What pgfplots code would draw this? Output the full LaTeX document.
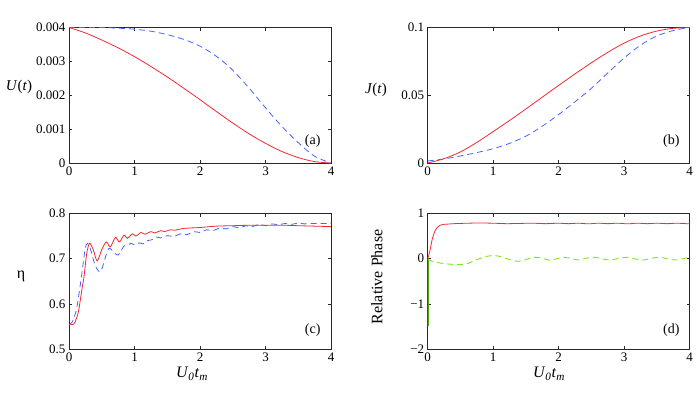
\documentclass[border=0pt]{standalone}
\usepackage{fontspec}
\setmainfont{Liberation Serif}
\usepackage{pgfplots}
\pgfplotsset{compat=1.18}

\definecolor{cred}{RGB}{245,40,50}
\definecolor{cblue}{RGB}{70,100,255}
\definecolor{cgreen}{RGB}{125,230,30}
\definecolor{cframe}{RGB}{40,40,40}

\pgfplotsset{
  panel/.style={
    scale only axis, width=262pt, height=135.5pt,
    anchor=south west,
    xmin=0, xmax=4,
    xtick={0,1,2,3,4}, xticklabels={0,1,2,3,4},
    tick align=inside, major tick length=3pt,
    axis line style={cframe, line width=0.8pt},
    tick style={cframe, line width=0.6pt},
    every tick label/.append style={font=\fontsize{13}{15}\selectfont, text=black},
    /pgf/number format/assume math mode=true,
    scaled ticks=false,
    clip=true,
  },
  solidred/.style={cred, line width=0.8pt, smooth, tension=0.5},
  dashblue/.style={cblue, line width=0.8pt, dash pattern=on 6pt off 4pt, smooth, tension=0.5},
  dashgreen/.style={cgreen, line width=0.9pt, dash pattern=on 6pt off 4pt, smooth, tension=0.5},
}

\begin{document}
\begin{tikzpicture}[x=1pt,y=1pt]
\path[use as bounding box] (0,0) rectangle (697,392);

% (a)
\begin{axis}[panel, at={(69pt,229pt)},
  ymin=0, ymax=0.004,
  ytick={0,0.001,0.002,0.003,0.004},
  yticklabels={0,0.001,0.002,0.003,0.004}]
\addplot[solidred] coordinates {
(0,0.004) (0.25,0.00384) (0.5,0.00363) (0.75,0.0034) (1,0.00314) (1.25,0.00285)
(1.5,0.00254) (1.75,0.00221) (2,0.00187) (2.25,0.00152) (2.5,0.00118)
(2.75,0.00086) (3,0.00058) (3.25,0.00034) (3.5,0.00016) (3.75,0.00004) (4,0)};
\addplot[dashblue] coordinates {
(0,0.004) (0.5,0.004) (0.75,0.00398) (1,0.00395) (1.25,0.00389) (1.5,0.00379)
(1.75,0.00365) (2,0.00345) (2.25,0.00315) (2.5,0.00274) (2.75,0.00221)
(3,0.00163) (3.25,0.00108) (3.5,0.0006) (3.75,0.0002) (4,0)};
\node[font=\fontsize{14}{16}\selectfont] at (rel axis cs:0.93,0.16) {(a)};
\end{axis}
\node[font=\fontsize{15}{17}\selectfont] at (19,305) {\textit{U}(\textit{t})};

% (b)
\begin{axis}[panel, at={(427.7pt,229pt)},
  ymin=0, ymax=0.1,
  ytick={0,0.05,0.1},
  yticklabels={0,0.05,0.1}]
\addplot[solidred] coordinates {
(0,0) (0.25,0.0032) (0.5,0.0082) (0.75,0.0152) (1,0.0232) (1.25,0.0314)
(1.5,0.0399) (1.75,0.0486) (2,0.0573) (2.25,0.0658) (2.5,0.074) (2.75,0.0817)
(3,0.0885) (3.25,0.0938) (3.5,0.0974) (3.75,0.0994) (4,0.1)};
\addplot[dashblue] coordinates {
(0,0.0015) (0.25,0.003) (0.5,0.0052) (0.75,0.0077) (1,0.0106) (1.25,0.0145)
(1.5,0.0198) (1.75,0.0272) (2,0.0358) (2.25,0.0452) (2.5,0.0552) (2.75,0.0665)
(3,0.0775) (3.25,0.087) (3.5,0.0938) (3.75,0.0978) (4,0.1)};
\node[font=\fontsize{14}{16}\selectfont] at (rel axis cs:0.93,0.16) {(b)};
\end{axis}
\node[font=\fontsize{15}{17}\selectfont] at (376,302) {\textit{J}(\textit{t})};

% (c)
\begin{axis}[panel, at={(69pt,43pt)},
  ymin=0.5, ymax=0.8,
  ytick={0.5,0.6,0.7,0.8},
  yticklabels={0.5,0.6,0.7,0.8}]
\addplot[solidred] coordinates {
(0,0.554) (0.07,0.555) (0.12,0.57) (0.153,0.59) (0.2,0.635) (0.229,0.66)
(0.26,0.70) (0.28,0.719) (0.316,0.734) (0.37,0.72) (0.43,0.695) (0.5,0.72)
(0.57,0.737) (0.63,0.726) (0.71,0.747) (0.77,0.737) (0.84,0.752) (0.89,0.745)
(0.97,0.755) (1.02,0.75) (1.1,0.758) (1.16,0.754) (1.25,0.760) (1.31,0.757)
(1.4,0.762) (1.46,0.760) (1.55,0.764) (1.62,0.763) (1.75,0.767) (2.0,0.769)
(2.25,0.772) (2.5,0.773) (2.76,0.774) (3.0,0.774) (3.27,0.774) (3.5,0.773)
(3.75,0.772) (4.0,0.771)};
\addplot[dashblue] coordinates {
(0,0.554) (0.05,0.56) (0.112,0.586) (0.15,0.62) (0.19,0.66) (0.244,0.719)
(0.28,0.734) (0.33,0.72) (0.4,0.685) (0.48,0.671) (0.55,0.70) (0.61,0.723)
(0.68,0.715) (0.75,0.708) (0.84,0.728) (0.9,0.73) (0.94,0.734) (1.0,0.731)
(1.07,0.735) (1.13,0.733) (1.2,0.74) (1.27,0.742) (1.33,0.748) (1.4,0.746)
(1.5,0.751) (1.6,0.749) (1.7,0.755) (1.8,0.753) (1.9,0.760) (2.0,0.758)
(2.1,0.764) (2.2,0.762) (2.3,0.768) (2.4,0.766) (2.5,0.771) (2.6,0.768)
(2.7,0.773) (2.8,0.771) (2.9,0.776) (3.0,0.773) (3.1,0.777) (3.2,0.775)
(3.3,0.778) (3.4,0.776) (3.5,0.779) (3.6,0.777) (3.7,0.778) (3.8,0.778) (4.0,0.778)};
\node[font=\fontsize{14}{16}\selectfont] at (rel axis cs:0.93,0.14) {(c)};
\end{axis}
\node[font=\fontsize{16}{18}\selectfont] at (21,116) {η};
\node[font=\fontsize{16}{18}\selectfont] at (192,18) {\textit{U}\textsubscript{\textit{0}}\textit{t}\textsubscript{\textit{m}}};

% (d)
\begin{axis}[panel, at={(427.7pt,43pt)},
  ymin=-2, ymax=1,
  ytick={-2,-1,0,1},
  yticklabels={−2,−1,0,1}]
\addplot[solidred] coordinates {
(0,0) (0.03,0.15) (0.066,0.41) (0.09,0.53) (0.117,0.63) (0.15,0.70) (0.19,0.74)
(0.25,0.76) (0.3,0.765) (0.4,0.775) (0.5,0.78) (0.6,0.785) (0.8,0.79) (1.0,0.785)
(1.2,0.775) (1.4,0.78) (1.6,0.785) (1.8,0.775) (2.0,0.785) (2.15,0.775) (2.3,0.785)
(2.45,0.772) (2.6,0.785) (2.75,0.775) (2.9,0.785) (3.05,0.772) (3.2,0.785)
(3.35,0.775) (3.5,0.785) (3.65,0.775) (3.8,0.785) (4.0,0.77)};
\addplot[cgreen!70!black, line width=1.2pt] coordinates {(0.006,-1.5) (0.006,0)};
\addplot[dashgreen] coordinates {
(0.006,0) (0.02,-0.03) (0.1,-0.07) (0.25,-0.11) (0.45,-0.13) (0.6,-0.11)
(0.75,-0.02) (0.9,0.05) (1.0,0.07) (1.1,0.05) (1.25,-0.02) (1.38,-0.06) (1.5,-0.02)
(1.62,0.03) (1.72,0.02) (1.85,-0.03) (1.95,-0.01) (2.08,0.03) (2.2,0.0) (2.3,-0.03)
(2.42,0.01) (2.55,0.03) (2.68,-0.01) (2.8,-0.03) (2.92,0.01) (3.05,0.03) (3.18,-0.01)
(3.3,-0.03) (3.42,0.01) (3.55,0.03) (3.68,-0.01) (3.8,-0.03) (3.9,0.0) (4.0,0.03)};
\node[font=\fontsize{14}{16}\selectfont] at (rel axis cs:0.93,0.14) {(d)};
\end{axis}
\node[font=\fontsize{16}{18}\selectfont, rotate=90] at (377,115) {Relative Phase};
\node[font=\fontsize{16}{18}\selectfont] at (549,18) {\textit{U}\textsubscript{\textit{0}}\textit{t}\textsubscript{\textit{m}}};
\end{tikzpicture}
\end{document}
